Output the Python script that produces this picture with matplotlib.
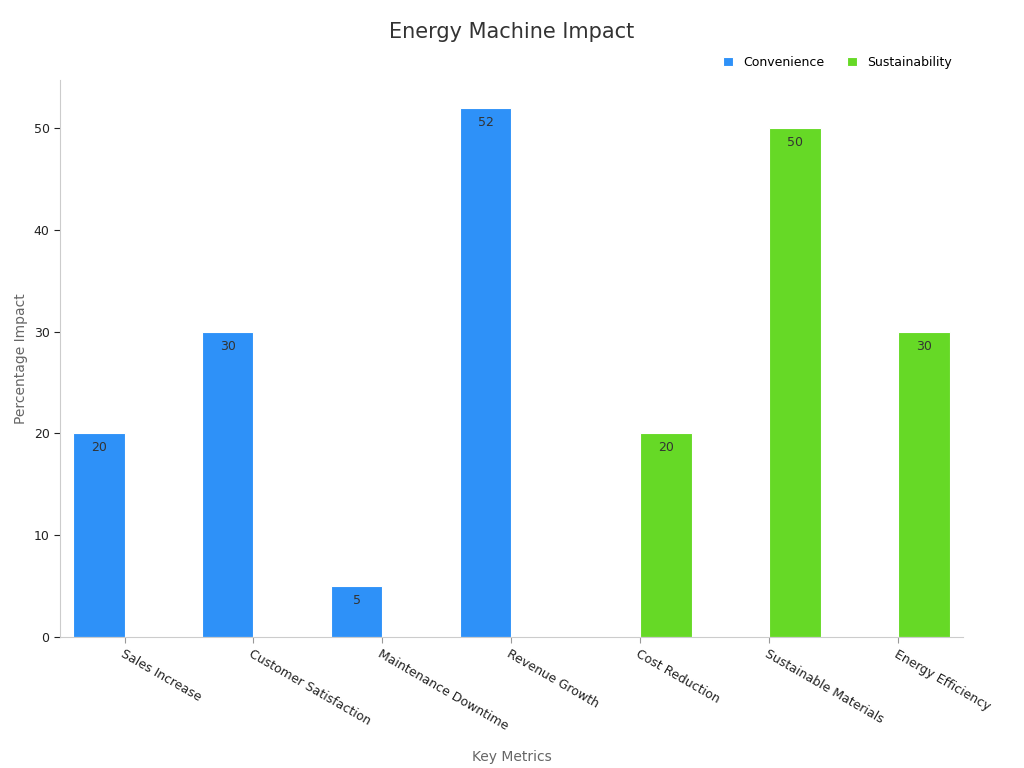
import matplotlib
matplotlib.use("Agg")
import matplotlib.pyplot as plt
import numpy as np

categories = ["Sales Increase", "Customer Satisfaction", "Maintenance Downtime",
              "Revenue Growth", "Cost Reduction", "Sustainable Materials", "Energy Efficiency"]
convenience = [20, 30, 5, 52, 0, 0, 0]
sustainability = [0, 0, 0, 0, 20, 50, 30]

fig = plt.figure(figsize=(10.24, 7.68), dpi=100)
ax = fig.add_axes([0.0586, 0.1706, 0.8818, 0.7252])

x = np.arange(len(categories))
w = 0.4
b1 = ax.bar(x - w / 2, convenience, w, color="#2e91f8", edgecolor="white", linewidth=0.8, label="Convenience")
b2 = ax.bar(x + w / 2, sustainability, w, color="#66d926", edgecolor="white", linewidth=0.8, label="Sustainability")

for bars, vals in ((b1, convenience), (b2, sustainability)):
    for rect, v in zip(bars, vals):
        if v:
            ax.text(rect.get_x() + rect.get_width() / 2, v - 0.8, str(v),
                    ha="center", va="top", fontsize=9, color="#333333")

ax.set_xlim(-0.5, 6.5)
ax.set_ylim(0, 54.7)
ax.set_yticks([0, 10, 20, 30, 40, 50])
ax.set_xticks(x)
ax.set_xticklabels(categories, rotation=-30, ha="left", rotation_mode="anchor", fontsize=9, color="#222222")
ax.tick_params(axis="y", labelsize=9, colors="#222222", length=4)
ax.tick_params(axis="x", length=4, colors="#999999", labelcolor="#222222")
for s in ("top", "right"):
    ax.spines[s].set_visible(False)
for s in ("left", "bottom"):
    ax.spines[s].set_color("#cccccc")

ax.set_xlabel("Key Metrics", fontsize=10, color="#666666", labelpad=12)
ax.set_ylabel("Percentage Impact", fontsize=10, color="#666666")
fig.suptitle("Energy Machine Impact", fontsize=15, color="#333333", y=0.972)
ax.legend(loc="lower right", bbox_to_anchor=(1.0, 1.0), ncol=2, frameon=False,
          fontsize=9, handlelength=0.8, handleheight=0.8, columnspacing=1.8)

fig.savefig("out.png", dpi=100)
